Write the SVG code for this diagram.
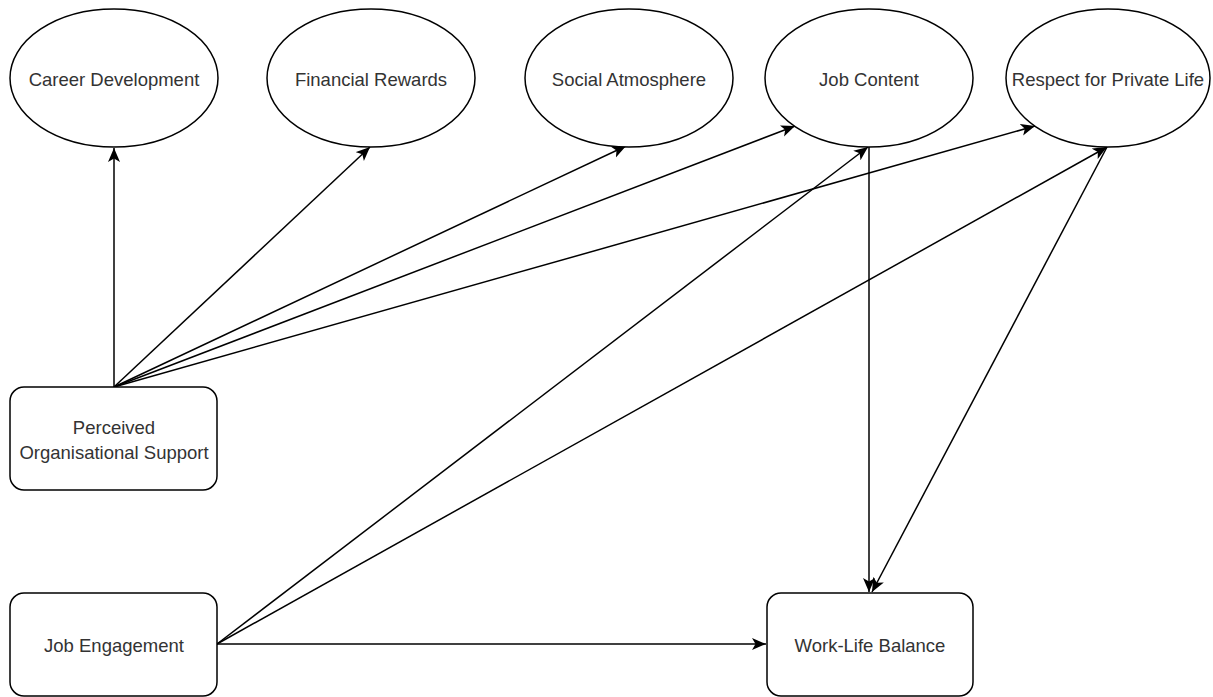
<svg xmlns="http://www.w3.org/2000/svg" width="1213" height="697" viewBox="0 0 1213 697">
<defs>
<marker id="arr" markerUnits="userSpaceOnUse" markerWidth="15" markerHeight="13" viewBox="0 0 15 13" refX="14" refY="6.5" orient="auto">
<path d="M0,0.5 L14,6.5 L0,12.5 L3.5,6.5 Z" fill="#000"/>
</marker>
</defs>
<style>
.node ellipse,.node rect{fill:#fff;stroke:#000;stroke-width:1.5}
.node text{font-family:"Liberation Sans",Arial,sans-serif;font-size:18.5px;fill:#333;text-anchor:middle;dominant-baseline:central}
#connectors path{fill:none;stroke:#000;stroke-width:1.5;marker-end:url(#arr)}
</style>
<rect width="1213" height="697" fill="#fff"/>
<g id="connectors">
<path d="M114,387 L114,148"/>
<path d="M114,387 L370,147"/>
<path d="M114,387 L626,146"/>
<path d="M114,387 L795,126"/>
<path d="M114,387 L1035,126"/>
<path d="M217,644 L868,147"/>
<path d="M217,644 L1107,147"/>
<path d="M217,644 L766,644"/>
<path d="M869,147 L869,592"/>
<path d="M1107,147 L872,592"/>
</g>
<g id="career" class="node"><ellipse cx="114" cy="78" rx="104" ry="69"/><text x="114" y="79">Career Development</text></g>
<g id="financial" class="node"><ellipse cx="371" cy="78" rx="104" ry="69"/><text x="371" y="79">Financial Rewards</text></g>
<g id="social" class="node"><ellipse cx="629" cy="78" rx="104" ry="69"/><text x="629" y="79">Social Atmosphere</text></g>
<g id="jobcontent" class="node"><ellipse cx="869" cy="78" rx="104" ry="69"/><text x="869" y="79">Job Content</text></g>
<g id="respect" class="node"><ellipse cx="1108" cy="78" rx="102" ry="69"/><text x="1108" y="79">Respect for Private Life</text></g>
<g id="pos" class="node"><rect x="10" y="387" width="207" height="103" rx="14"/><text x="114" y="427">Perceived</text><text x="114" y="452">Organisational Support</text></g>
<g id="je" class="node"><rect x="10" y="593" width="207" height="103" rx="14"/><text x="114" y="645">Job Engagement</text></g>
<g id="wlb" class="node"><rect x="767" y="593" width="206" height="103" rx="14"/><text x="870" y="645">Work-Life Balance</text></g>
</svg>
